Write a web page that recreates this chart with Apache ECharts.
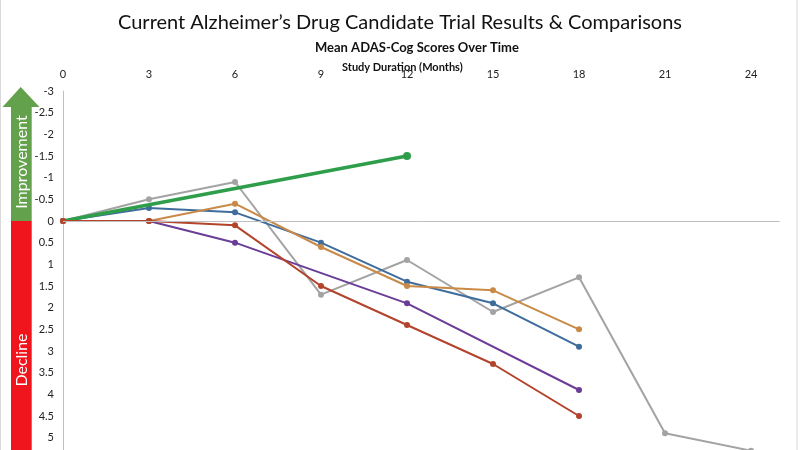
<!DOCTYPE html>
<html>
<head>
<meta charset="utf-8">
<script src="https://cdn.jsdelivr.net/npm/echarts@6/dist/echarts.min.js"></script>
<style>html,body{margin:0;padding:0;background:#fff;}#c{width:800px;height:450px;}</style>
</head>
<body>
<div id="c"></div>
<script>
const months = [0, 3, 6, 9, 12, 15, 18, 21, 24];
const grayVals   = [0, -0.5, -0.9, 1.7, 0.9, 2.1, 1.3, 4.9, 5.3];
const blueVals   = [0, -0.3, -0.2, 0.5, 1.4, 1.9, 2.9, null, null];
const orangeVals = [0, 0, -0.4, 0.6, 1.5, 1.6, 2.5, null, null];
const purpleVals = [0, 0, 0.5, null, 1.9, null, 3.9, null, null];
const redVals    = [0, 0, 0.1, 1.5, 2.4, 3.3, 4.5, null, null];
const greenVals  = [0, null, null, null, -1.5, null, null, null, null];

function pairs(vals) {
  const out = [];
  vals.forEach((v, i) => { if (v !== null) out.push([months[i], v]); });
  return out;
}

const FONT = 'Lato';
const chart = echarts.init(document.getElementById('c'), null, {renderer: 'canvas'});

function lineSeries(name, vals, color, width, sym, z) {
  return {
    name: name, type: 'line', data: pairs(vals), z: z,
    symbol: 'circle', symbolSize: sym, showAllSymbol: true,
    lineStyle: {color: color, width: width},
    itemStyle: {color: color},
    emphasis: {disabled: true}
  };
}

const greenSeries = lineSeries('Green', greenVals, '#2E9E4B', 3.5, 8, 3);
greenSeries.data = greenSeries.data.map((d, i) => i === 0 ? {value: d, symbol: 'none'} : d);

const graySeries = lineSeries('Gray', grayVals, '#A3A3A3', 2, 6, 2);
graySeries.markLine = {
  silent: true, symbol: ['none', 'none'], label: {show: false},
  lineStyle: {color: '#BFBFBF', width: 1, type: 'solid'},
  data: [{yAxis: 0}]
};

const option = {
  animation: false,
  backgroundColor: '#ffffff',
  textStyle: {fontFamily: FONT},
  title: [
    {text: 'Current Alzheimer\u2019s Drug Candidate Trial Results & Comparisons', left: 'center', top: 8,
     textStyle: {fontFamily: FONT, fontSize: 20, fontWeight: 'normal', color: '#111'}},
    {text: 'Mean ADAS-Cog Scores Over Time', left: 310, top: 36,
     textStyle: {fontFamily: FONT, fontSize: 13, fontWeight: 'bold', color: '#111'}},
    {text: 'Study Duration (Months)', left: 337, top: 57,
     textStyle: {fontFamily: FONT, fontSize: 11, fontWeight: 'bold', color: '#111'}}
  ],
  grid: {left: 63, top: 91, width: 716.7, height: 390, containLabel: false, outerBoundsMode: 'none'},
  xAxis: {
    type: 'value', position: 'top', min: 0, max: 25, interval: 3,
    axisLine: {show: false}, axisTick: {show: false}, splitLine: {show: false},
    axisLabel: {showMaxLabel: false, margin: 11, fontSize: 11, color: '#222', fontFamily: FONT,
      formatter: v => (v % 3 === 0 ? String(v) : '')}
  },
  yAxis: {
    type: 'value', inverse: true, min: -3, max: 6, interval: 0.5,
    axisLine: {show: true, onZero: false, lineStyle: {color: '#BFBFBF', width: 1}},
    axisTick: {show: false}, splitLine: {show: false},
    axisLabel: {margin: 9, fontSize: 11, color: '#222', fontFamily: FONT}
  },
  series: [
    graySeries,
    lineSeries('Purple', purpleVals, '#6A3D96', 2, 6, 2),
    lineSeries('Blue', blueVals, '#3F6D9B', 2, 6, 2),
    lineSeries('Orange', orangeVals, '#C98A47', 2, 6, 2),
    greenSeries,
    lineSeries('Red', redVals, '#B3432B', 2, 6, 4)
  ],
  graphic: [
    {type: 'rect', shape: {x: 0.5, y: -5, width: 796.5, height: 470}, silent: true,
     style: {fill: 'none', stroke: '#D9D9D9', lineWidth: 1}},
    {type: 'polygon', silent: true,
     shape: {points: [[20.7, 87], [39.5, 107], [31.7, 107], [31.7, 221], [11, 221], [11, 107], [2.5, 107]]},
     style: {fill: '#64A14C'}},
    {type: 'rect', silent: true, shape: {x: 11, y: 221, width: 20.7, height: 240},
     style: {fill: '#F0141C'}},
    {type: 'text', silent: true, x: 21.5, y: 162, rotation: Math.PI / 2,
     style: {text: 'Improvement', fill: '#ffffff', font: '16px Lato', textAlign: 'center', textVerticalAlign: 'middle'}},
    {type: 'text', silent: true, x: 21.5, y: 360, rotation: Math.PI / 2,
     style: {text: 'Decline', fill: '#ffffff', font: '16px Lato', textAlign: 'center', textVerticalAlign: 'middle'}}
  ]
};
chart.setOption(option);
</script>
</body>
</html>
